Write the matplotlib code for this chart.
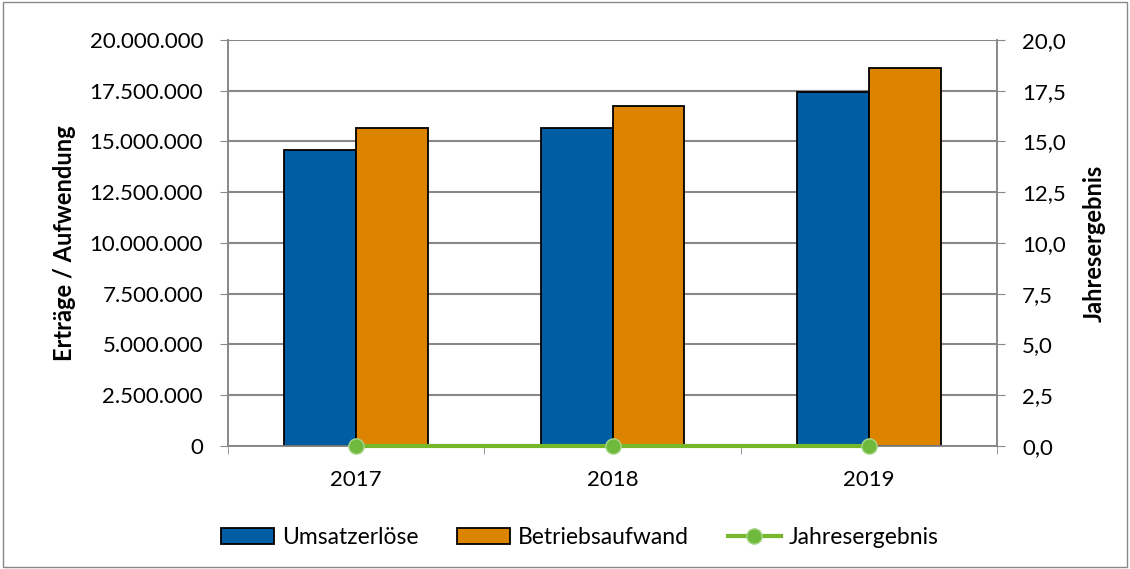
import numpy as np
import matplotlib.pyplot as plt
from matplotlib.ticker import FuncFormatter
from matplotlib.patches import Rectangle

jahre = ['2017', '2018', '2019']
umsatz = [14580000, 15660000, 17440000]
aufwand = [15660000, 16750000, 18620000]
ergebnis = [0.0, 0.0, 0.0]

plt.rcParams['font.family'] = ['Lato', 'DejaVu Sans']

fig = plt.figure(figsize=(11.30, 5.69), dpi=100)
ax = fig.add_axes([0.2018, 0.2162, 0.6805, 0.7135])
ax2 = ax.twinx()

x = np.arange(len(jahre))
w = 0.28
blau = '#005ca3'
orange = '#dc8400'
gruen = '#77b82a'

ax.bar(x - w/2, umsatz, w, color=blau, edgecolor='black', linewidth=1.3, label='Umsatzerlöse', zorder=3)
ax.bar(x + w/2, aufwand, w, color=orange, edgecolor='black', linewidth=1.3, label='Betriebsaufwand', zorder=3)
ax2.plot(x, ergebnis, color=gruen, linewidth=3, marker='o', markersize=11,
         markerfacecolor='#6fba3c', markeredgecolor='#a8d58a', label='Jahresergebnis', zorder=4, clip_on=False)

ax.set_xlim(-0.5, 2.5)
ax.set_ylim(0, 20000000)
ax.set_yticks(np.arange(0, 20000001, 2500000))
ax.yaxis.set_major_formatter(FuncFormatter(lambda v, p: f'{int(v):,}'.replace(',', '.')))
ax2.set_ylim(0, 20)
ax2.set_yticks(np.arange(0, 20.01, 2.5))
ax2.yaxis.set_major_formatter(FuncFormatter(lambda v, p: f'{v:.1f}'.replace('.', ',')))

ax.set_xticks(x)
ax.set_xticklabels(jahre)
ax.set_xticks([-0.5, 0.5, 1.5, 2.5], minor=True)
ax.tick_params(axis='x', which='major', length=0, pad=17, labelsize=16)
ax.tick_params(axis='x', which='minor', length=6, color='#888888')
ax.tick_params(axis='y', length=6, color='#888888', labelsize=16, pad=12)
ax2.tick_params(axis='y', length=6, color='#888888', labelsize=16, pad=12)

ax.grid(axis='y', color='#888888', linewidth=1.5, zorder=0)
ax.set_axisbelow(True)
for a in (ax, ax2):
    a.spines['top'].set_visible(False)
    for s in ('left', 'right', 'bottom'):
        a.spines[s].set_color('#888888')
        a.spines[s].set_linewidth(1.2)

ax.set_ylabel('Erträge / Aufwendung', fontsize=17, fontweight='bold', labelpad=10)
ax2.set_ylabel('Jahresergebnis', fontsize=17, fontweight='bold', labelpad=12)

h1, l1 = ax.get_legend_handles_labels()
h2, l2 = ax2.get_legend_handles_labels()
fig.legend(h1 + h2, l1 + l2, loc='center', bbox_to_anchor=(0.513, 0.055), ncol=3,
           frameon=False, fontsize=16.5, handlelength=2.3, handletextpad=0.35, columnspacing=1.7)

fig.patches.append(Rectangle((0.003, 0.003), 0.994, 0.994, transform=fig.transFigure,
                             fill=False, edgecolor='#888888', linewidth=1))

fig.savefig('out.png', dpi=100)
